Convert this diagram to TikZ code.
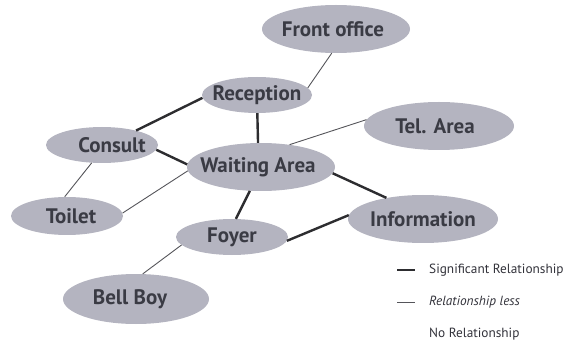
\documentclass[tikz,border=0pt]{standalone}
\usepackage{fontspec}
\setmainfont{PT Sans}
\usetikzlibrary{shapes.geometric}
\definecolor{roomfill}{RGB}{180,180,192}
\definecolor{roomtext}{RGB}{58,59,68}
\definecolor{strongline}{RGB}{45,45,48}
\definecolor{weakline}{RGB}{85,85,90}
\definecolor{legendtext}{RGB}{50,50,58}
\tikzset{
  room/.style 2 args={ellipse, fill=roomfill, inner sep=0pt,
    minimum width=#1pt, minimum height=#2pt,
    text=roomtext, font=\fontsize{21}{21}\selectfont\bfseries},
  strong/.style={draw=strongline, line width=2.4pt},
  weak/.style={draw=weakline, line width=0.9pt},
  legend/.style={anchor=west, inner sep=0pt, text=legendtext,
    font=\fontsize{13.3}{14}\selectfont},
}
% label of zero width, optionally moved sideways (#1) and down (#2)
\newcommand{\roomlabel}[3][0pt]{\makebox[0pt]{\hspace*{#1}\hspace*{#1}\raisebox{-#2}{#3}}}
\begin{document}
\begin{tikzpicture}[x=1pt,y=-1pt]
\useasboundingbox (0,0) rectangle (575,347);

% rooms
\node[room={148}{48}] (front)   at (336,29)  {\roomlabel[-3pt]{0pt}{Front office}};
\node[room={110}{36}] (recep)   at (257,95)  {\roomlabel{0pt}{Reception}};
\node[room={150}{48}] (tel)     at (439,126) {\roomlabel[-4pt]{0pt}{Tel. Area}};
\node[room={112}{36}] (consult) at (102,145) {\roomlabel[10pt]{4pt}{Consult}};
\node[room={148}{48}] (waiting) at (261,167) {\roomlabel[-3pt]{0pt}{Waiting Area}};
\node[room={112}{38}] (toilet)  at (67,216)  {\roomlabel[4pt]{0pt}{Toilet}};
\node[room={150}{48}] (info)    at (423,219) {\roomlabel{0pt}{Information}};
\node[room={112}{36}] (foyer)   at (232,237) {\roomlabel{0pt}{Foyer}};
\node[room={146}{50}] (bellboy) at (136,299) {\roomlabel[-6pt]{-2pt}{Bell Boy}};

% significant relationships
\draw[strong] (consult.23)  -- (recep.183);
\draw[strong] (recep.271)   -- (waiting.97);
\draw[strong] (consult.-5)  -- (waiting.178);
\draw[strong] (waiting.245) -- (foyer.78);
\draw[strong] (waiting.-5)  -- (info.150);
\draw[strong] (foyer.-4)    -- (info.177);

% weaker relationships
\draw[weak] (front.260)   -- (recep.8);
\draw[weak] (tel.175)     -- (waiting.38);
\draw[weak] (consult.240) -- (toilet.97);
\draw[weak] (toilet.3)    -- (waiting.183);
\draw[weak] (foyer.189)   -- (bellboy.75);

% legend
\coordinate (k1a) at (397,270); \coordinate (k1b) at (415,270);
\coordinate (k2a) at (397,302); \coordinate (k2b) at (415,302);
\draw[strong] (k1a) -- (k1b);
\draw[weak]   (k2a) -- (k2b);
\node[legend] (l1) at (429,270) {Significant Relationship};
\node[legend] (l2) at (429,302) {\itshape Relationship less};
\node[legend] (l3) at (429,334) {No Relationship};
\end{tikzpicture}
\end{document}
